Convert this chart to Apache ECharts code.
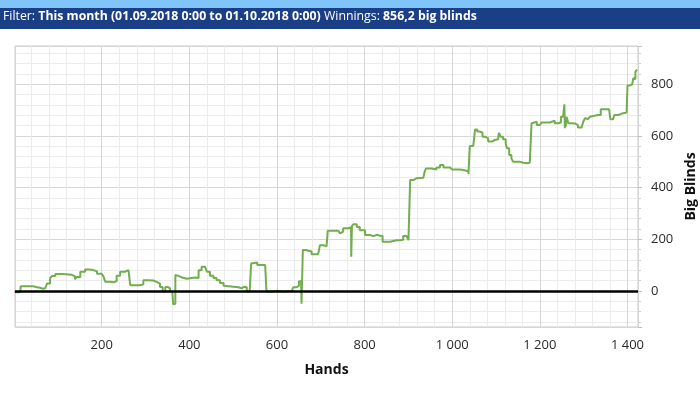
<!DOCTYPE html>
<html><head><meta charset="utf-8">
<script src="https://cdn.jsdelivr.net/npm/echarts@6/dist/echarts.min.js"></script>
<style>html,body{margin:0;padding:0;background:#fff}#c{width:700px;height:399px}</style>
</head><body><div id="c"></div>
<script>
// Cumulative winnings (big blinds) by hand number
const hands = [2,14,15,44,50,59,66,71,75,82,86,94,110,132,135,139,143,151,162,170,177,189,200,204,208,219,227,234,242,253,261,264,265,287,295,305,318,325,333,339,345,350,356,361,363,366,368,372,375,383,394,413,421,428,436,440,447,455,462,470,478,481,512,516,519,526,531,537,538,540,541,545,555,573,574,576,588,600,615,634,637,645,650,655,656,658,659,665,672,679,694,698,706,713,716,740,744,748,751,763,767,769,769.5,770,771,774,782,789,801,812,820,824,829,835,841,850,858,873,881,888,896,900,903,904,911,919,934,937,940,953,957,964,972,980,995,999,1018,1025,1037,1039,1040,1048,1052,1057,1062,1065,1069,1075,1082,1090,1097,1105,1107,1110,1116,1122,1125,1130,1135,1139,1154,1162,1170,1177,1180,1181,1185,1193,1200,1204,1215,1223,1234,1242,1248,1253,1255,1256,1257,1258,1259,1261,1265,1272,1280,1287,1295,1299,1303,1306,1310,1314,1318,1333,1336,1339,1358,1361,1367,1370,1371,1379,1390,1398,1399,1400,1405,1409,1411,1413,1416,1418,1421,1422];
const bigBlinds = [-5,-5,18,15,12,8,10,14,28,48,57,65,62,62,56,45,54,74,83,82,76,66,66,55,35,33,38,58,74,80,76,76,22,25,41,40,35,28,15,-3,15,10,-3,-3,-52,-50,61,58,52,47,52,50,80,93,88,74,58,50,41,30,20,14,14,10,16,14,-3,-3,6,6,106,110,100,100,100,-3,0,-3,0,0,14,20,37,30,-50,-50,158,155,152,142,142,177,172,177,233,229,222,229,242,242,247,247,132,132,250,258,247,235,216,212,207,217,213,212,190,190,196,196,198,212,205,196,196,429,436,438,441,461,474,475,470,478,487,478,478,470,468,463,452,452,561,565,625,617,611,613,597,590,578,584,587,597,612,597,587,571,552,526,513,500,496,494,496,499,499,649,655,642,645,652,652,659,649,652,674,674,674,722,630,674,636,674,649,648,642,632,634,655,668,665,660,674,681,681,681,703,703,664,664,681,681,688,690,690,690,795,792,800,800,823,820,849,853,856.2];
// Small red trace at the very start
const startHands = [1, 5];
const startBB = [-4, -4];

const headerLabel = 'Filter: ';
const headerFilter = 'This month (01.09.2018 0:00 to 01.10.2018 0:00)';
const headerWinLabel = ' Winnings: ';
const headerWin = '856,2 big blinds';
const xName = 'Hands';
const yName = 'Big Blinds';

function fmt(v) {
  const s = String(Math.round(v));
  return s.replace(/\B(?=(\d{3})+(?!\d))/g, ' ');
}

const chart = echarts.init(document.getElementById('c'), null, {renderer: 'canvas'});
const FONT = '"Open Sans", sans-serif';
chart.setOption({
  animation: false,
  backgroundColor: '#ffffff',
  graphic: [
    {type: 'rect', shape: {x: 0, y: 0, width: 700, height: 8}, style: {fill: '#80c4f9'}},
    {type: 'rect', shape: {x: 0, y: 8, width: 700, height: 21}, style: {fill: '#1a3f86'}},
    {type: 'text', left: 3, top: 10, style: {
      text: '{n|' + headerLabel + '}{b|' + headerFilter + '}{n|' + headerWinLabel + '}{b|' + headerWin + '}',
      rich: {
        n: {fill: '#ffffff', fontFamily: FONT, fontSize: 12.3, fontWeight: 'normal'},
        b: {fill: '#ffffff', fontFamily: FONT, fontSize: 12.3, fontWeight: 'bold'}
      }
    }}
  ],
  grid: {left: 15, right: 62, top: 46, bottom: 72, outerBoundsMode: 'none', containLabel: false, show: true, borderColor: '#c8c8c8', borderWidth: 1, backgroundColor: 'transparent'},
  xAxis: {
    type: 'value', min: 2, max: 1424, splitNumber: 7,
    name: xName, nameLocation: 'middle', nameGap: 36,
    nameTextStyle: {fontFamily: FONT, fontSize: 14, fontWeight: 'bold', color: '#111'},
    axisLine: {show: false}, axisTick: {show: false},
    axisLabel: {showMinLabel: false, showMaxLabel: false, fontFamily: FONT, fontSize: 13, color: '#2a2a2a', margin: 12, formatter: fmt},
    splitLine: {show: true, lineStyle: {color: '#d6d6d6', width: 1}},
    minorTick: {show: false, splitNumber: 5},
    minorSplitLine: {show: true, lineStyle: {color: '#ececec', width: 1}}
  },
  yAxis: {
    type: 'value', position: 'right', min: -140, max: 948, splitNumber: 5,
    name: yName, nameLocation: 'middle', nameGap: 44,
    nameTextStyle: {fontFamily: FONT, fontSize: 14, fontWeight: 'bold', color: '#111'},
    axisLine: {show: false},
    axisTick: {show: true, length: 4, lineStyle: {color: '#bdbdbd'}},
    minorTick: {show: true, splitNumber: 5, length: 3, lineStyle: {color: '#cfcfcf'}},
    axisLabel: {showMinLabel: false, showMaxLabel: false, fontFamily: FONT, fontSize: 13, color: '#2a2a2a', margin: 13, formatter: fmt},
    splitLine: {show: true, lineStyle: {color: '#d6d6d6', width: 1}},
    minorSplitLine: {show: true, lineStyle: {color: '#ececec', width: 1}}
  },
  series: [
    {
      type: 'line', data: startHands.map((h, i) => [h, startBB[i]]),
      showSymbol: false, lineStyle: {color: '#e0604a', width: 2}, z: 2
    },
    {
      type: 'line', step: 'end', data: hands.map((h, i) => [h, bigBlinds[i]]),
      showSymbol: false, lineStyle: {color: '#72ad4f', width: 2}, z: 3,
      markLine: {
        silent: true, symbol: 'none', label: {show: false},
        lineStyle: {color: '#000000', width: 2.5, type: 'solid'},
        data: [{yAxis: 0}]
      }
    }
  ]
});
</script></body></html>
